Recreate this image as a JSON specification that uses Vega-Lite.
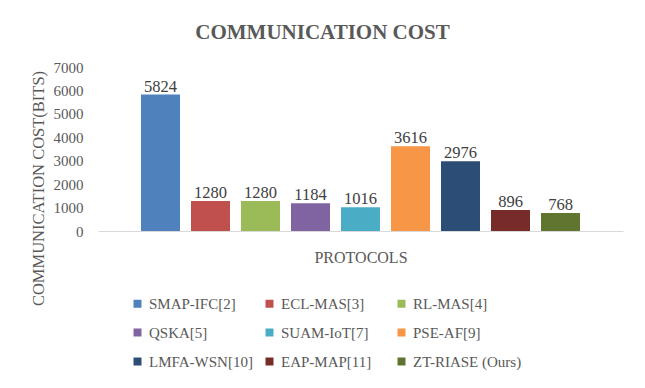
{
  "$schema": "https://vega.github.io/schema/vega-lite/v6.json",
  "autosize": {"type": "none"},
  "width": 525,
  "height": 164,
  "padding": {"top": 67, "left": 98, "right": 22, "bottom": 157},
  "background": "white",
  "title": {
    "text": "COMMUNICATION COST",
    "font": "Liberation Serif",
    "fontSize": 21,
    "fontWeight": "bold",
    "color": "#595959",
    "anchor": "middle",
    "frame": "group",
    "baseline": "bottom",
    "offset": -4,
    "dx": -38
  },
  "data": {
    "values": [
      {"protocol": "SMAP-IFC[2]", "cost": 5824},
      {"protocol": "ECL-MAS[3]", "cost": 1280},
      {"protocol": "RL-MAS[4]", "cost": 1280},
      {"protocol": "QSKA[5]", "cost": 1184},
      {"protocol": "SUAM-IoT[7]", "cost": 1016},
      {"protocol": "PSE-AF[9]", "cost": 3616},
      {"protocol": "LMFA-WSN[10]", "cost": 2976},
      {"protocol": "EAP-MAP[11]", "cost": 896},
      {"protocol": "ZT-RIASE (Ours)", "cost": 768}
    ]
  },
  "encoding": {
    "x": {
      "field": "protocol",
      "type": "nominal",
      "sort": null,
      "scale": {"paddingInner": 0.22, "paddingOuter": 0.86},
      "axis": {
        "title": "PROTOCOLS",
        "labels": false,
        "ticks": false,
        "domain": true,
        "domainColor": "#d9d9d9",
        "domainWidth": 1,
        "titleFont": "Liberation Serif",
        "titleFontSize": 16,
        "titleFontWeight": "normal",
        "titleColor": "#595959",
        "titlePadding": 18
      }
    },
    "y": {
      "field": "cost",
      "type": "quantitative",
      "scale": {"domain": [0, 7000], "nice": false},
      "axis": {
        "title": "COMMUNICATION COST(BITS)",
        "values": [0, 1000, 2000, 3000, 4000, 5000, 6000, 7000],
        "format": "d",
        "domain": false,
        "ticks": false,
        "grid": false,
        "labelPadding": 15,
        "labelFont": "Liberation Serif",
        "labelFontSize": 15,
        "labelColor": "#595959",
        "titleFont": "Liberation Serif",
        "titleFontSize": 16.5,
        "titleFontWeight": "normal",
        "titleColor": "#595959",
        "titleAngle": -90,
        "titleAlign": "center",
        "titleBaseline": "middle",
        "titleX": -59.5,
        "titleY": 121
      }
    }
  },
  "layer": [
    {
      "mark": {"type": "bar"},
      "encoding": {
        "color": {
          "field": "protocol",
          "type": "nominal",
          "sort": null,
          "scale": {
            "range": ["#4f81bd", "#c0504d", "#9bbb59", "#8064a2", "#4bacc6", "#f79646", "#2c4d75", "#772c2a", "#5f7530"]
          },
          "legend": {
            "title": null,
            "orient": "none",
            "direction": "horizontal",
            "legendX": 32,
            "legendY": 229,
            "columns": 3,
            "gridAlign": "all",
            "columnPadding": 4,
            "rowPadding": 13,
            "symbolType": "square",
            "symbolSize": 64,
            "symbolStrokeWidth": 0,
            "labelFont": "Liberation Serif",
            "labelFontSize": 15,
            "labelColor": "#595959",
            "labelOffset": 4,
            "labelLimit": 200,
            "padding": 0
          }
        }
      }
    },
    {
      "mark": {
        "type": "text",
        "baseline": "alphabetic",
        "dy": -3,
        "font": "Liberation Serif",
        "fontSize": 16.5,
        "color": "#404040"
      },
      "encoding": {
        "text": {"field": "cost", "type": "quantitative"}
      }
    }
  ],
  "config": {
    "view": {"stroke": null}
  }
}
